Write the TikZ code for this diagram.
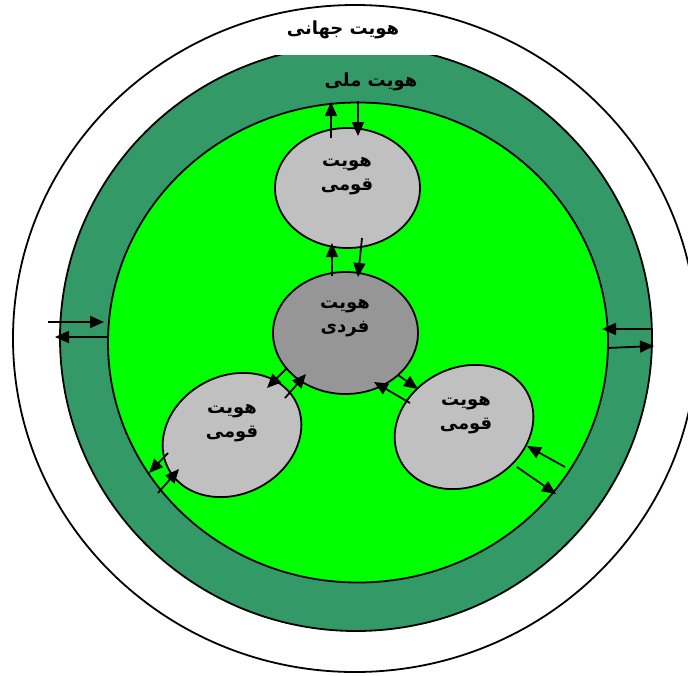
\documentclass[tikz,border=0pt]{standalone}
\usepackage{fontspec}
\usetikzlibrary{arrows.meta}
\TeXXeTstate=1
\newfontfamily\fa[Script=Arabic]{DejaVu Sans}
\definecolor{seagreen}{HTML}{339966}
\definecolor{limegreen}{HTML}{00FF00}
\definecolor{lgray}{HTML}{C0C0C0}
\definecolor{mgray}{HTML}{969696}
\tikzset{
  ring/.style={draw=black, line width=1.8pt},
  lbl/.style={font=\fa\bfseries\fontsize{18}{24}\selectfont, align=center, inner sep=0pt},
  flow/.style={line width=1.8pt, -{Triangle[length=14pt,width=12pt]}}
}
\begin{document}
\begin{tikzpicture}[x=1pt,y=-1pt]
\clip (0,0) rectangle (688,675);
\useasboundingbox (0,0) rectangle (688,675);
% rings
\draw[ring, fill=white] (355,338.5) ellipse [x radius=342, y radius=333.5];
\draw[ring, fill=seagreen] (356,338) ellipse [x radius=296, y radius=293];
\fill[white] (270,18) rectangle (440,55);
\draw[ring, fill=limegreen] (358,342.5) ellipse [x radius=250, y radius=240];
% identity ellipses
\draw[ring, fill=lgray] (347.5,188) ellipse [x radius=72.5, y radius=60];
\draw[ring, fill=mgray] (345.5,333) ellipse [x radius=72.5, y radius=61];
\draw[ring, fill=lgray, rotate around={28:(232,435)}] (232,435) ellipse [x radius=72, y radius=59];
\draw[ring, fill=lgray, rotate around={28:(464,427)}] (464,427) ellipse [x radius=72, y radius=59];
% labels
\node[lbl] (global) at (343,30) {\beginR هویت جهانی\endR};
\node[lbl] (national) at (371,82) {\beginR هویت ملی\endR};
\node[lbl] (ethTop) at (347,176) {\beginR هویت\endR\\\beginR قومی\endR};
\node[lbl] (indiv) at (345,318) {\beginR هویت\endR\\\beginR فردی\endR};
\node[lbl] (ethLeft) at (232,423) {\beginR هویت\endR\\\beginR قومی\endR};
\node[lbl] (ethRight) at (466,415) {\beginR هویت\endR\\\beginR قومی\endR};
% arrow end points
\coordinate (t1s) at (331,138); \coordinate (t1e) at (331,102);
\coordinate (t2s) at (358,101); \coordinate (t2e) at (358,136);
\coordinate (c1s) at (332,276); \coordinate (c1e) at (332,243);
\coordinate (c2s) at (362,238); \coordinate (c2e) at (358,277);
\coordinate (l1s) at (287,368); \coordinate (l1e) at (267,388);
\coordinate (l2s) at (285,398); \coordinate (l2e) at (306,374);
\coordinate (r1s) at (398,375); \coordinate (r1e) at (418,389);
\coordinate (r2s) at (410,403); \coordinate (r2e) at (374,382);
\coordinate (lo1s) at (168,453); \coordinate (lo1e) at (149,473);
\coordinate (lo2s) at (158,493); \coordinate (lo2e) at (179,469);
\coordinate (ro1s) at (565,467); \coordinate (ro1e) at (527,446);
\coordinate (ro2s) at (517,467); \coordinate (ro2e) at (556,494);
\coordinate (w1s) at (48,322); \coordinate (w1e) at (104,322);
\coordinate (w2s) at (108,337); \coordinate (w2e) at (55,337);
\coordinate (e1s) at (653,329); \coordinate (e1e) at (602,329);
\coordinate (e2s) at (607,348); \coordinate (e2e) at (654,346);
% arrows
\foreach \a in {t1,t2,c1,c2,l1,l2,r1,r2,lo1,lo2,ro1,ro2,w1,w2,e1,e2}
  \draw[flow] (\a s) -- (\a e);
\end{tikzpicture}
\end{document}
